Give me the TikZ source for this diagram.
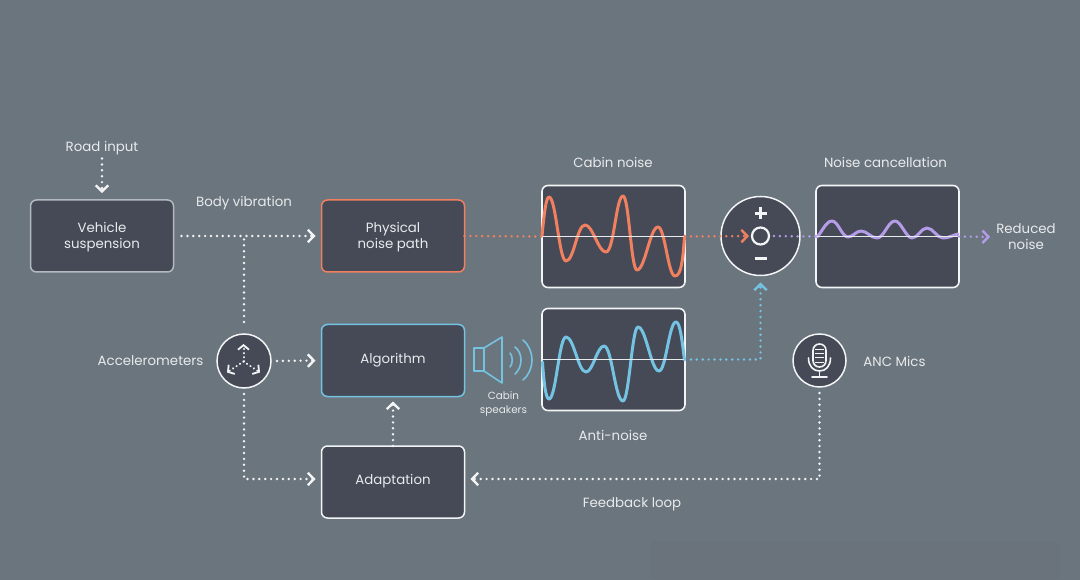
\documentclass[tikz,border=0pt]{standalone}
\usepackage{fontspec}
\setmainfont{Poppins}
\usetikzlibrary{arrows.meta,calc}
\definecolor{bg}{HTML}{6B757D}
\definecolor{smudge}{HTML}{6A737B}
\definecolor{panel}{HTML}{454A56}
\definecolor{ink}{HTML}{E8EBED}
\definecolor{wht}{HTML}{F2F4F5}
\definecolor{orng}{HTML}{F0805F}
\definecolor{blu}{HTML}{74C3E3}
\definecolor{purp}{HTML}{B59CE8}
\definecolor{dimedge}{HTML}{B4B9BF}
\newcommand{\boxtxt}[2]{\raisebox{#1}[0pt][0pt]{\begin{tabular}{@{}c@{}}#2\end{tabular}}}
\tikzset{
  lbl/.style={text=ink,font=\fontsize{13.35}{16}\selectfont,align=center,inner sep=0pt},
  smalllbl/.style={text=ink,font=\fontsize{10.4}{14}\selectfont,align=center,inner sep=0pt},
  boxn/.style={draw,fill=panel,rounded corners=6pt,line width=1.5pt,minimum width=143pt,minimum height=72pt,inner sep=0pt,outer sep=0pt,text=ink,font=\fontsize{13.35}{16}\selectfont,align=center},
  panelbox/.style={draw=wht,fill=panel,rounded corners=6pt,line width=1.6pt,minimum width=143pt,minimum height=102pt,inner sep=0pt,outer sep=0pt},
  disc/.style={circle,draw=wht,fill=panel,line width=1.5pt,inner sep=0pt,outer sep=0pt},
  dotline/.style={line width=2.7pt,line cap=round,dash pattern=on 0pt off 5.9pt},
  tip/.style={-{Straight Barb[length=6pt,width=12.5pt,line width=2.4pt]}},
  wave/.style={line width=3pt,line cap=round,line join=round},
  axisline/.style={line width=1.4pt,draw=ink},
  iconline/.style={line width=1.6pt,line cap=round,line join=round},
  acctip/.style={line width=2pt,line cap=round,dash pattern=on 0.3pt off 3.8pt,-{Straight Barb[length=4.5pt,width=11pt,line width=1.8pt]}}
}
\begin{document}
\begin{tikzpicture}[x=1pt,y=-1pt]
\useasboundingbox (0,0) rectangle (1080,580);
\fill[bg] (0,0) rectangle (1080,580);
\fill[smudge,rounded corners=8pt] (650,541) rectangle (1060,580);

% boxes
\node[boxn,draw=dimedge] (susp) at (102,236) {\boxtxt{-5.3pt}{Vehicle\\suspension}};
\node[boxn,draw=orng] (phys) at (393,236) {\boxtxt{-5.3pt}{Physical\\noise path}};
\node[boxn,draw=blu] (algo) at (393,360.5) {\boxtxt{-3.8pt}{Algorithm}};
\node[boxn,draw=wht] (adapt) at (393,482) {\boxtxt{-2.8pt}{Adaptation}};
\node[panelbox] (cabin) at (613.5,236.5) {};
\node[panelbox] (anti) at (613.5,359.5) {};
\node[panelbox] (cancel) at (887.5,236.5) {};
\node[disc,minimum size=79pt] (sum) at (760.5,236) {};
\node[disc,minimum size=54pt] (accel) at (244,361) {};
\node[disc,minimum size=53pt] (mic) at (819.5,360.5) {};
\node[circle,draw=wht,line width=2.2pt,minimum size=17pt,inner sep=0pt,outer sep=0pt] (ring) at (760.5,236) {};

% labels
\node[lbl] (road) at (102,148.5) {Road input};
\node[lbl] (body) at (244,203) {Body vibration};
\node[lbl] (cabinlbl) at (613,162) {Cabin noise};
\node[lbl] (cancellbl) at (885.5,162) {Noise cancellation};
\node[lbl] (reduced) at (1026,237) {Reduced\\noise};
\node[lbl] (acclbl) at (150.5,361) {Accelerometers};
\node[lbl] (miclbl) at (894.5,361) {ANC Mics};
\node[lbl] (antilbl) at (613,435.5) {Anti-noise};
\node[lbl] (fblbl) at (632,504.5) {Feedback loop};
\node[smalllbl] (spklbl) at (503.5,404) {Cabin\\speakers};

% waves
\draw[wave,orng] (542,236) .. controls (544,215) and (546,197) .. (549,197)
  .. controls +(7,0) and +(-7,0) .. (566,261)
  .. controls +(8,0) and +(-8,0) .. (585,225)
  .. controls +(8,0) and +(-8,0) .. (606,252)
  .. controls +(8,0) and +(-7,0) .. (623,196)
  .. controls +(6,0) and +(-6,0) .. (637,270)
  .. controls +(8,0) and +(-8,0) .. (658,227)
  .. controls +(7,0) and +(-7,0) .. (675,276)
  .. controls (681,276) and (683,260) .. (684.5,236);
\draw[wave,blu] (542.5,362) .. controls (544,385) and (546,399) .. (549,399)
  .. controls +(7,0) and +(-7,0) .. (566,337)
  .. controls +(8,0) and +(-8,0) .. (586,372)
  .. controls +(7,0) and +(-7,0) .. (604,346)
  .. controls +(8,0) and +(-8,0) .. (623,401)
  .. controls +(6,0) and +(-6,0) .. (638,327)
  .. controls +(8,0) and +(-8,0) .. (659,371)
  .. controls +(7,0) and +(-7,0) .. (676,322)
  .. controls (680,322) and (682,340) .. (684.5,360);
\draw[wave,purp] (817,237) .. controls (822,232) and (826,221) .. (832,221)
  .. controls +(6,0) and +(-6,0) .. (848,237)
  .. controls +(5,0) and +(-5,0) .. (861,231)
  .. controls +(6,0) and +(-6,0) .. (877,238)
  .. controls +(7,0) and +(-7,0) .. (895,221)
  .. controls +(6,0) and +(-6,0) .. (912,238)
  .. controls +(6,0) and +(-6,0) .. (927,228)
  .. controls +(6,0) and +(-6,0) .. (943,238)
  .. controls (949,238) and (953,235) .. (958,234);
\draw[axisline] (cabin.west) -- (cabin.east);
\draw[axisline] (anti.west) -- (anti.east);
\draw[axisline] (cancel.west) -- (cancel.east);

% connectors
\coordinate (branch) at (244,236);
\coordinate (adaptW) at ([yshift=3pt]adapt.west);
\coordinate (adaptE) at ([yshift=3pt]adapt.east);
\draw[dotline,wht,tip,shorten <=8pt,shorten >=6pt] (susp.east) -- (phys.west);
\draw[dotline,wht,shorten <=12pt] (accel.north) -- (branch);
\draw[dotline,wht,tip,shorten <=6pt,shorten >=6pt] (accel.east) -- (algo.west);
\draw[dotline,wht,tip,shorten <=6pt,shorten >=6pt] (accel.south) |- (adaptW);
\draw[dotline,wht,tip,shorten >=5pt] (adapt.north) -- (algo.south);
\draw[dotline,wht,tip,shorten <=6pt,shorten >=6pt] (mic.south) |- (adaptE);
\draw[dotline,wht,tip,shorten <=3pt,shorten >=7pt] (road.south) -- (susp.north);
\draw[dotline,orng] (phys.east) -- (cabin.west);
\draw[dotline,orng,tip,shorten >=3pt] (cabin.east) -- (ring.west);
\draw[dotline,purp,shorten <=5pt] (ring.east) -- (cancel.west);
\draw[dotline,purp,tip,shorten >=6pt] (cancel.east) -- (reduced.west);
\draw[dotline,blu,tip,shorten >=7pt] (anti.east) -| (sum.south);

% sum symbols
\draw[wht,line width=3pt] (754.5,213.5) -- (766.5,213.5) (760.5,207.5) -- (760.5,219.5);
\draw[wht,line width=3pt] (754.5,259) -- (766.5,259);

% speaker
\draw[iconline,blu] (474,348) rectangle (484,371);
\draw[iconline,blu] (484,348) -- (502,337) -- (502,383) -- (484,371);
\draw[iconline,blu] (510,353) .. controls (513,356) and (513,364) .. (510,367);
\draw[iconline,blu] (515,347) .. controls (523,353) and (523,367) .. (515,374);
\draw[iconline,blu] (523,340) .. controls (535,350) and (535,370) .. (523,380);

% accelerometer icon
\coordinate (acc0) at (243.5,361.5);
\coordinate (accU) at (243.5,344);
\coordinate (accL) at (227,372.5);
\coordinate (accR) at (260,372.5);
\draw[acctip,wht] (acc0) -- (accU);
\draw[acctip,wht] (acc0) -- (accL);
\draw[acctip,wht] (acc0) -- (accR);

% microphone icon
\draw[iconline,wht,rounded corners=6.4pt] (813,344) rectangle (826,367);
\draw[wht,line width=1pt] (815,350) -- (824,350) (815,354) -- (824,354) (815,358) -- (824,358) (815,362) -- (824,362);
\draw[iconline,wht] (808.5,358) .. controls (808.5,366) and (813,371) .. (819.5,371) .. controls (826,371) and (830.5,366) .. (830.5,358);
\draw[iconline,wht] (819.5,371) -- (819.5,377) (812,377) -- (827,377);
\end{tikzpicture}
\end{document}
